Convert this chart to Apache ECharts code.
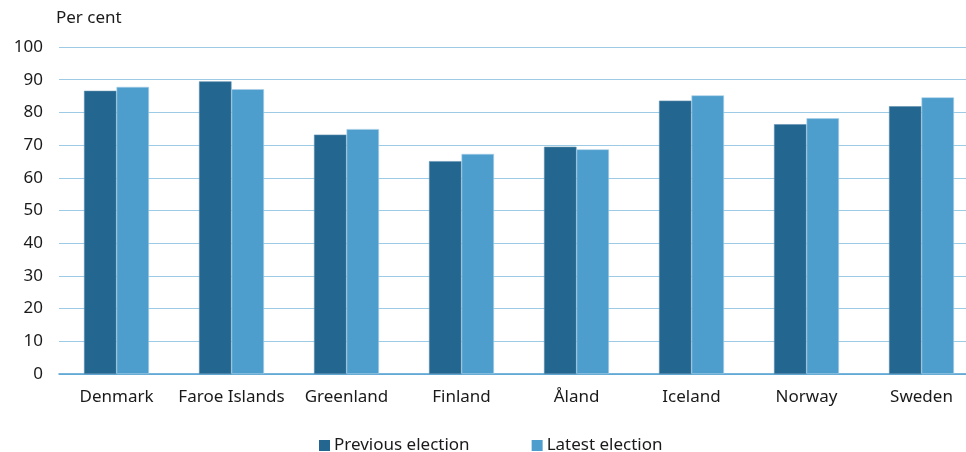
<!DOCTYPE html>
<html>
<head>
<meta charset="utf-8">
<script src="https://cdn.jsdelivr.net/npm/echarts@6/dist/echarts.min.js"></script>
<style>
html,body{margin:0;padding:0;background:#fff;}
#chart{width:966px;height:452px;}
</style>
</head>
<body>
<div id="chart"></div>
<script>
const categories = ['Denmark', 'Faroe Islands', 'Greenland', 'Finland', 'Åland', 'Iceland', 'Norway', 'Sweden'];
const previousElection = [86.6, 89.5, 73.2, 65.1, 69.5, 83.6, 76.4, 81.9];
const latestElection = [87.8, 87.1, 74.9, 67.3, 68.7, 85.2, 78.2, 84.6];
const seriesNames = ['Previous election', 'Latest election'];
const yAxisName = 'Per cent';

const FONT = '"Noto Sans", "Open Sans", sans-serif';
const FS = 17;
const chart = echarts.init(document.getElementById('chart'), null, {renderer: 'canvas'});
chart.setOption({
  animation: false,
  backgroundColor: '#fff',
  textStyle: {fontFamily: FONT, color: '#1a1a1a'},
  grid: {left: 59, top: 47, right: -13, height: 327, containLabel: false, outerBoundsMode: 'none'},
  legend: {
    data: seriesNames,
    left: 319,
    top: 432,
    padding: [5, 0, 5, 0],
    itemWidth: 11,
    itemHeight: 11,
    itemGap: 62,
    icon: 'rect',
    itemStyle: {borderWidth: 0},
    textStyle: {fontFamily: FONT, fontSize: FS, color: '#1a1a1a', padding: [0, 0, 0, -1]}
  },
  xAxis: {
    type: 'category',
    data: categories,
    axisTick: {show: false},
    axisLine: {show: true, lineStyle: {color: '#4f9fd0', width: 1.5}},
    axisLabel: {fontFamily: FONT, fontSize: FS, color: '#1a1a1a', margin: 15, interval: 0}
  },
  yAxis: {
    type: 'value',
    min: 0, max: 100, interval: 10,
    name: yAxisName,
    nameLocation: 'end',
    nameGap: 20,
    nameTextStyle: {fontFamily: FONT, fontSize: FS, color: '#1a1a1a', align: 'left', padding: [0, 0, 0, -3]},
    axisLine: {show: false},
    axisTick: {show: false},
    axisLabel: {fontFamily: FONT, fontSize: FS, color: '#1a1a1a', margin: 16},
    splitLine: {show: true, lineStyle: {color: '#9dcbe6', width: 1.2}}
  },
  series: [
    {
      name: seriesNames[0], type: 'bar', data: previousElection,
      barWidth: 32.5, barGap: '0%',
      itemStyle: {color: '#23668f', borderColor: '#5f90ae', borderWidth: 0.6}
    },
    {
      name: seriesNames[1], type: 'bar', data: latestElection,
      barWidth: 32.5, barGap: '0%',
      itemStyle: {color: '#4d9ecd', borderColor: '#a9d0e8', borderWidth: 0.6}
    }
  ]
});
</script>
</body>
</html>
